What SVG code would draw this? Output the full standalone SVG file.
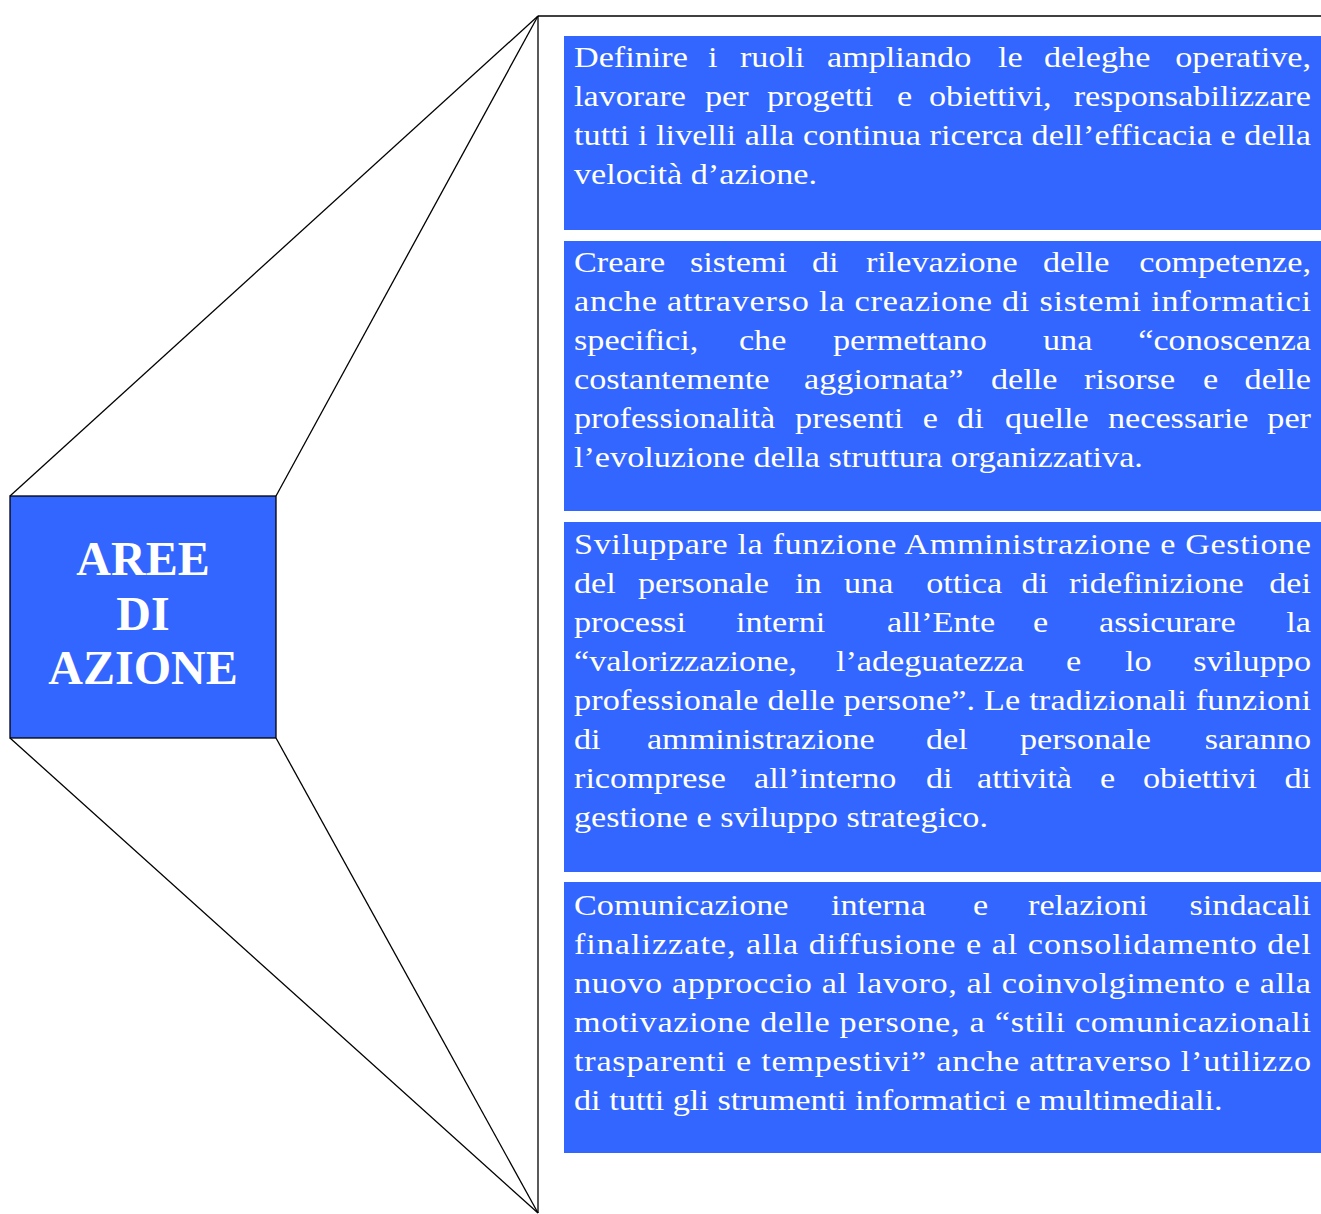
<svg xmlns="http://www.w3.org/2000/svg" width="1321" height="1214" viewBox="0 0 1321 1214">
<style>
.box{fill:#3366FF;}
.ln{stroke:#000;stroke-width:1.3;fill:none;}
.t{font-family:"Liberation Serif","DejaVu Serif",serif;font-size:30px;fill:#fff;}
.e{text-anchor:end;}
.title{font-family:"Liberation Serif","Times New Roman",serif;font-weight:bold;font-size:48px;fill:#fff;text-anchor:middle;}
</style>
<rect width="1321" height="1214" fill="#fff"/>
<g id="connectors">
<line class="ln" x1="10" y1="496" x2="538" y2="16"/>
<line class="ln" x1="276" y1="496" x2="538" y2="16"/>
<line class="ln" x1="10" y1="738" x2="538" y2="1213"/>
<line class="ln" x1="276" y1="738" x2="538" y2="1213"/>
<line class="ln" x1="538" y1="16" x2="538" y2="1213"/>
<line class="ln" x1="538" y1="16" x2="1321" y2="16"/>
</g>
<g id="aree">
<rect class="box" x="10" y="496" width="266" height="242" stroke="#000" stroke-width="1.3"/>
<text class="title" x="143" y="575">AREE</text>
<text class="title" x="143" y="630">DI</text>
<text class="title" x="143" y="684">AZIONE</text>
</g>
<g id="box1">
<rect class="box" x="564" y="36" width="757" height="194"/>
<g transform="matrix(1.14,0,0,1,-80.36,0)">
<text class="t" y="67"><tspan x="574">Definire</tspan><tspan x="691.5">i</tspan><tspan x="719.6">ruoli</tspan><tspan x="795.9">ampliando</tspan><tspan x="945.9">le</tspan><tspan x="986.3">deleghe</tspan></text>
<text class="t e" x="1220.5" y="67">operative,</text>
<text class="t" y="106"><tspan x="574">lavorare</tspan><tspan x="688.9">per</tspan><tspan x="743.3">progetti</tspan><tspan x="857.3">e</tspan><tspan x="885.4">obiettivi,</tspan></text>
<text class="t e" x="1220.5" y="106">responsabilizzare</text>
<text class="t" x="574" y="145" textLength="646.5" lengthAdjust="spacing">tutti i livelli alla continua ricerca dell’efficacia e della</text>
<text class="t" x="574" y="184">velocità d’azione.</text>
</g>
</g>
<g id="box2">
<rect class="box" x="564" y="241" width="757" height="270"/>
<g transform="matrix(1.14,0,0,1,-80.36,0)">
<text class="t" y="272"><tspan x="574">Creare</tspan><tspan x="675.8">sistemi</tspan><tspan x="782.8">di</tspan><tspan x="830.1">rilevazione</tspan><tspan x="985.4">delle</tspan></text>
<text class="t e" x="1220.5" y="272">competenze,</text>
<text class="t" x="574" y="311" textLength="646.5" lengthAdjust="spacing">anche attraverso la creazione di sistemi informatici</text>
<text class="t" y="350"><tspan x="574">specifici,</tspan><tspan x="718.7">che</tspan><tspan x="801.2">permettano</tspan><tspan x="985.4">una</tspan></text>
<text class="t e" x="1220.5" y="350">“conoscenza</text>
<text class="t" y="389"><tspan x="574">costantemente</tspan><tspan x="775.8">aggiornata”</tspan><tspan x="939.8">delle</tspan><tspan x="1021.4">risorse</tspan><tspan x="1125.8">e</tspan></text>
<text class="t e" x="1220.5" y="389">delle</text>
<text class="t" y="428"><tspan x="574">professionalità</tspan><tspan x="767.9">presenti</tspan><tspan x="880">e</tspan><tspan x="910">di</tspan><tspan x="952.1">quelle</tspan><tspan x="1042.4">necessarie</tspan></text>
<text class="t e" x="1220.5" y="428">per</text>
<text class="t" x="574" y="467">l’evoluzione della struttura organizzativa.</text>
</g>
</g>
<g id="box3">
<rect class="box" x="564" y="522" width="757" height="350"/>
<g transform="matrix(1.14,0,0,1,-80.36,0)">
<text class="t" x="574" y="554" textLength="646.5" lengthAdjust="spacing">Sviluppare la funzione Amministrazione e Gestione</text>
<text class="t" y="593"><tspan x="574">del</tspan><tspan x="630.1">personale</tspan><tspan x="767.9">in</tspan><tspan x="810.8">una</tspan><tspan x="883">ottica</tspan><tspan x="966.5">di</tspan><tspan x="1008.2">ridefinizione</tspan></text>
<text class="t e" x="1220.5" y="593">dei</text>
<text class="t" y="632"><tspan x="574">processi</tspan><tspan x="716.1">interni</tspan><tspan x="848.6">all’Ente</tspan><tspan x="976.6">e</tspan><tspan x="1034.5">assicurare</tspan></text>
<text class="t e" x="1220.5" y="632">la</text>
<text class="t" y="671"><tspan x="574">“valorizzazione,</tspan><tspan x="803.8">l’adeguatezza</tspan><tspan x="1005.6">e</tspan><tspan x="1057.3">lo</tspan></text>
<text class="t e" x="1220.5" y="671">sviluppo</text>
<text class="t" x="574" y="710" textLength="646.5" lengthAdjust="spacing">professionale delle persone”. Le tradizionali funzioni</text>
<text class="t" y="749"><tspan x="574">di</tspan><tspan x="638">amministrazione</tspan><tspan x="882.8">del</tspan><tspan x="965.2">personale</tspan></text>
<text class="t e" x="1220.5" y="749">saranno</text>
<text class="t" y="788"><tspan x="574">ricomprese</tspan><tspan x="731.9">all’interno</tspan><tspan x="882.8">di</tspan><tspan x="927.5">attività</tspan><tspan x="1035.4">e</tspan><tspan x="1073.1">obiettivi</tspan></text>
<text class="t e" x="1220.5" y="788">di</text>
<text class="t" x="574" y="827">gestione e sviluppo strategico.</text>
</g>
</g>
<g id="box4">
<rect class="box" x="564" y="882" width="757" height="271"/>
<g transform="matrix(1.14,0,0,1,-80.36,0)">
<text class="t" y="915"><tspan x="574">Comunicazione</tspan><tspan x="799.4">interna</tspan><tspan x="924">e</tspan><tspan x="972.3">relazioni</tspan></text>
<text class="t e" x="1220.5" y="915">sindacali</text>
<text class="t" x="574" y="954" textLength="646.5" lengthAdjust="spacing">finalizzate, alla diffusione e al consolidamento del</text>
<text class="t" x="574" y="993" textLength="646.5" lengthAdjust="spacing">nuovo approccio al lavoro, al coinvolgimento e alla</text>
<text class="t" x="574" y="1032" textLength="646.5" lengthAdjust="spacing">motivazione delle persone, a “stili comunicazionali</text>
<text class="t" x="574" y="1071" textLength="646.5" lengthAdjust="spacing">trasparenti e tempestivi” anche attraverso l’utilizzo</text>
<text class="t" x="574" y="1110">di tutti gli strumenti informatici e multimediali.</text>
</g>
</g>
</svg>
